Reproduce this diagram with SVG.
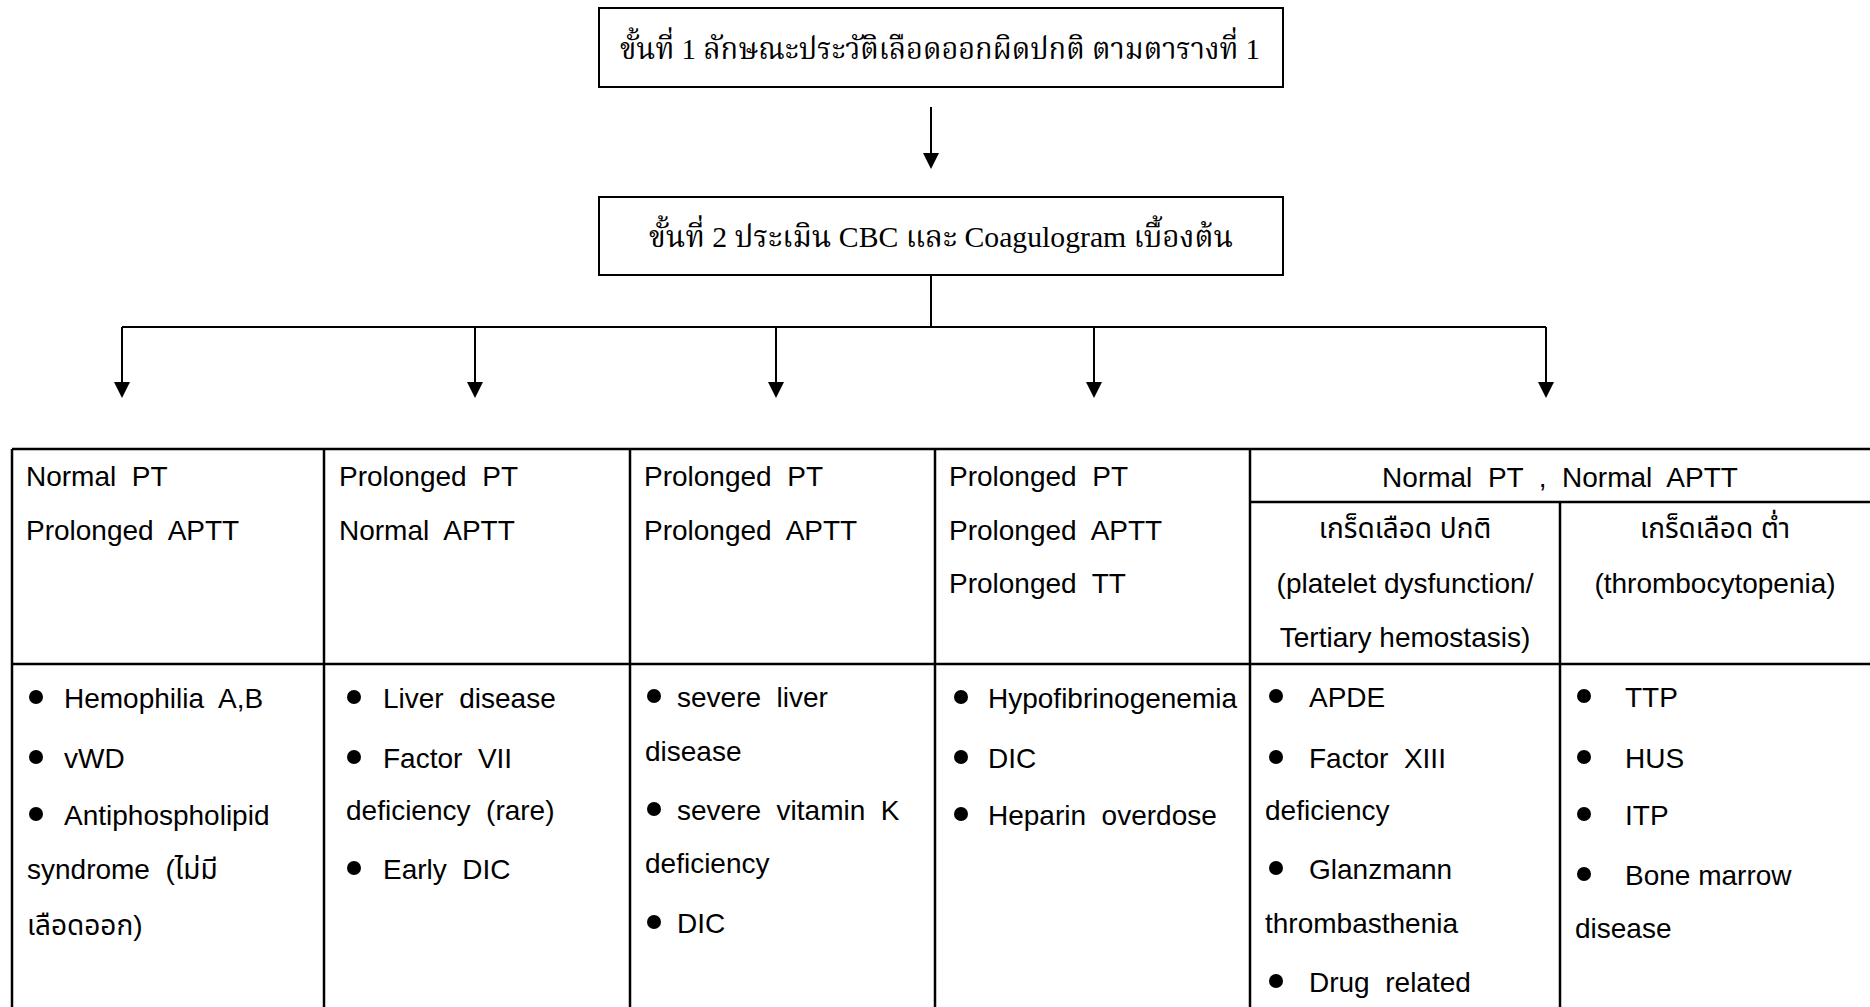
<svg xmlns="http://www.w3.org/2000/svg" width="1870" height="1007" viewBox="0 0 1870 1007">
<style>
  .box { fill: #fff; stroke: #000; stroke-width: 2; }
  .conn { stroke: #000; stroke-width: 2; fill: none; }
  .head { fill: #000; }
  .tbl { stroke: #000; stroke-width: 2.5; fill: none; }
  .bt { font-family: "Liberation Serif", "Noto Serif Thai", serif; font-size: 30px; fill: #000; text-anchor: middle; white-space: pre; }
  .t { font-family: "Liberation Sans", "Noto Sans Thai", "Noto Sans", sans-serif; font-size: 28px; fill: #000; white-space: pre; }
  .c { text-anchor: middle; }
  .dot { fill: #000; }
</style>

<g id="step1">
  <rect class="box" x="599" y="8" width="684" height="79"/>
  <text class="bt" x="940" y="59" textLength="640" lengthAdjust="spacingAndGlyphs">ขั้นที่ 1 ลักษณะประวัติเลือดออกผิดปกติ ตามตารางที่ 1</text>
</g>

<g id="step2">
  <rect class="box" x="599" y="197" width="684" height="78"/>
  <text class="bt" x="941" y="247" textLength="584" lengthAdjust="spacingAndGlyphs">ขั้นที่ 2 ประเมิน CBC และ Coagulogram เบื้องต้น</text>
</g>

<g id="connectors">
  <path class="conn" d="M931,107 L931,154"/>
  <path class="head" d="M923,153 L939,153 L931,169 Z"/>
  <path class="conn" d="M931,275 L931,327"/>
  <path class="conn" d="M122,327 L1546,327"/>
  <path class="conn" d="M122,327 L122,384"/>
  <path class="head" d="M114,382 L130,382 L122,398 Z"/>
  <path class="conn" d="M475,327 L475,384"/>
  <path class="head" d="M467,382 L483,382 L475,398 Z"/>
  <path class="conn" d="M776,327 L776,384"/>
  <path class="head" d="M768,382 L784,382 L776,398 Z"/>
  <path class="conn" d="M1094,327 L1094,384"/>
  <path class="head" d="M1086,382 L1102,382 L1094,398 Z"/>
  <path class="conn" d="M1546,327 L1546,384"/>
  <path class="head" d="M1538,382 L1554,382 L1546,398 Z"/>
</g>

<g id="table-grid">
  <path class="tbl" d="M12,449 L1872,449"/>
  <path class="tbl" d="M1250,502 L1872,502"/>
  <path class="tbl" d="M12,664 L1872,664"/>
  <path class="tbl" d="M12,449 L12,1010"/>
  <path class="tbl" d="M324,449 L324,1010"/>
  <path class="tbl" d="M630,449 L630,1010"/>
  <path class="tbl" d="M935,449 L935,1010"/>
  <path class="tbl" d="M1250,449 L1250,1010"/>
  <path class="tbl" d="M1560,502 L1560,1010"/>
</g>

<g id="col1">
  <text class="t" x="26" y="486">Normal  PT</text>
  <text class="t" x="26" y="540">Prolonged  APTT</text>
  <circle class="dot" cx="36" cy="697" r="7"/>
  <text class="t" x="64" y="708">Hemophilia  A,B</text>
  <circle class="dot" cx="36" cy="757" r="7"/>
  <text class="t" x="64" y="768">vWD</text>
  <circle class="dot" cx="36" cy="814" r="7"/>
  <text class="t" x="64" y="825">Antiphospholipid</text>
  <text class="t" x="27" y="879">syndrome  (ไม่มี</text>
  <text class="t" x="27" y="935">เลือดออก)</text>
</g>

<g id="col2">
  <text class="t" x="339" y="486">Prolonged  PT</text>
  <text class="t" x="339" y="540">Normal  APTT</text>
  <circle class="dot" cx="354" cy="697" r="7"/>
  <text class="t" x="383" y="708">Liver  disease</text>
  <circle class="dot" cx="354" cy="757" r="7"/>
  <text class="t" x="383" y="768">Factor  VII</text>
  <text class="t" x="346" y="820">deficiency  (rare)</text>
  <circle class="dot" cx="354" cy="868" r="7"/>
  <text class="t" x="383" y="879">Early  DIC</text>
</g>

<g id="col3">
  <text class="t" x="644" y="486">Prolonged  PT</text>
  <text class="t" x="644" y="540">Prolonged  APTT</text>
  <circle class="dot" cx="654" cy="696" r="7"/>
  <text class="t" x="677" y="707">severe  liver</text>
  <text class="t" x="645" y="761">disease</text>
  <circle class="dot" cx="654" cy="809" r="7"/>
  <text class="t" x="677" y="820">severe  vitamin  K</text>
  <text class="t" x="645" y="873">deficiency</text>
  <circle class="dot" cx="654" cy="922" r="7"/>
  <text class="t" x="677" y="933">DIC</text>
</g>

<g id="col4">
  <text class="t" x="949" y="486">Prolonged  PT</text>
  <text class="t" x="949" y="540">Prolonged  APTT</text>
  <text class="t" x="949" y="593">Prolonged  TT</text>
  <circle class="dot" cx="961" cy="697" r="7"/>
  <text class="t" x="988" y="708">Hypofibrinogenemia</text>
  <circle class="dot" cx="961" cy="757" r="7"/>
  <text class="t" x="988" y="768">DIC</text>
  <circle class="dot" cx="961" cy="814" r="7"/>
  <text class="t" x="988" y="825">Heparin  overdose</text>
</g>

<g id="col5-6-header">
  <text class="t c" x="1560" y="487">Normal  PT  ,  Normal  APTT</text>
</g>

<g id="col5">
  <text class="t c" x="1405" y="538">เกร็ดเลือด ปกติ</text>
  <text class="t c" x="1405" y="593">(platelet dysfunction/</text>
  <text class="t c" x="1405" y="647">Tertiary hemostasis)</text>
  <circle class="dot" cx="1276" cy="696" r="7"/>
  <text class="t" x="1309" y="707">APDE</text>
  <circle class="dot" cx="1276" cy="757" r="7"/>
  <text class="t" x="1309" y="768">Factor  XIII</text>
  <text class="t" x="1265" y="820">deficiency</text>
  <circle class="dot" cx="1276" cy="868" r="7"/>
  <text class="t" x="1309" y="879">Glanzmann</text>
  <text class="t" x="1265" y="933">thrombasthenia</text>
  <circle class="dot" cx="1276" cy="981" r="7"/>
  <text class="t" x="1309" y="992">Drug  related</text>
</g>

<g id="col6">
  <text class="t c" x="1715" y="538">เกร็ดเลือด ต่ำ</text>
  <text class="t c" x="1715" y="593">(thrombocytopenia)</text>
  <circle class="dot" cx="1584" cy="696" r="7"/>
  <text class="t" x="1625" y="707">TTP</text>
  <circle class="dot" cx="1584" cy="757" r="7"/>
  <text class="t" x="1625" y="768">HUS</text>
  <circle class="dot" cx="1584" cy="814" r="7"/>
  <text class="t" x="1625" y="825">ITP</text>
  <circle class="dot" cx="1584" cy="874" r="7"/>
  <text class="t" x="1625" y="885">Bone marrow</text>
  <text class="t" x="1575" y="938">disease</text>
</g>
</svg>
